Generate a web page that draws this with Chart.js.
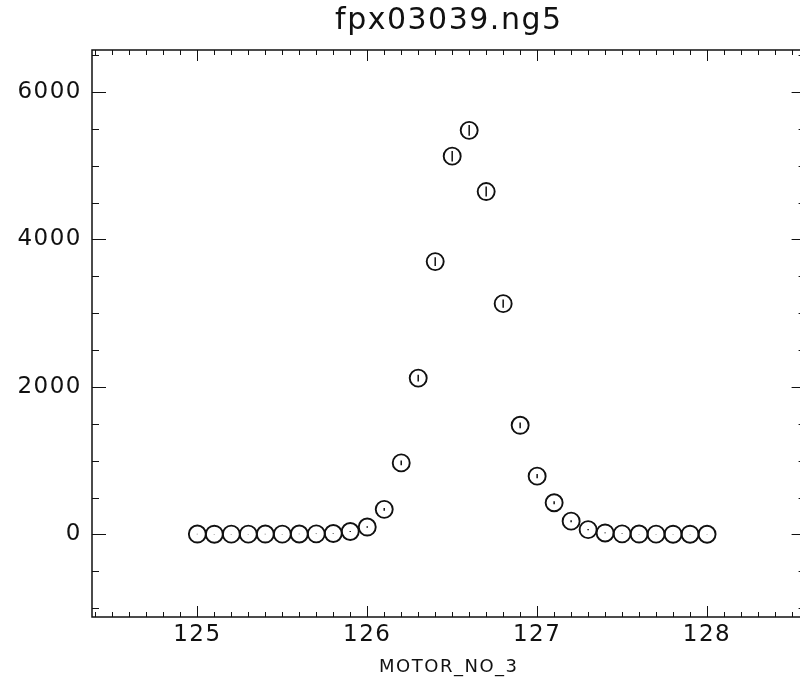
<!DOCTYPE html>
<html>
<head>
<meta charset="utf-8">
<script src="https://cdn.jsdelivr.net/npm/chart.js@4"></script>
<style>
  html, body { margin: 0; padding: 0; background: #fff; overflow: hidden; }
  #scan { display: block; }
</style>
</head>
<body>
<canvas id="scan" width="816" height="695"></canvas>
<script>
// motor positions (x) and counts (y)
const motorPos = [125.0, 125.1, 125.2, 125.3, 125.4, 125.5, 125.6, 125.7, 125.8, 125.9,
                  126.0, 126.1, 126.2, 126.3, 126.4, 126.5, 126.6, 126.7, 126.8, 126.9,
                  127.0, 127.1, 127.2, 127.3, 127.4, 127.5, 127.6, 127.7, 127.8, 127.9, 128.0];
const counts = [5, 3, 4, 4, 5, 4, 6, 8, 12, 40,
                100, 340, 970, 2120, 3700, 5130, 5480, 4650, 3130, 1480,
                790, 430, 180, 65, 20, 8, 5, 4, 3, 3, 2];
const xTicks = [125, 126, 127, 128];
const yTicks = [0, 2000, 4000, 6000];
const xRange = [124.38, 128.58];
const yRange = [-1120, 6570];

// IDL style box: ticks on all four sides, pointing inward
const idlFrame = {
    id: 'idlFrame',
    beforeDraw(chart) {
        chart.ctx.letterSpacing = '1.5px';
    },
    afterDatasetsDraw(chart) {
        // sqrt(N) error bars inside each circle
        const ctx = chart.ctx;
        const x = chart.scales.x, y = chart.scales.y;
        ctx.save();
        ctx.strokeStyle = '#111';
        ctx.lineWidth = 1.5;
        counts.forEach((c, i) => {
            const err = Math.sqrt(c);
            const px = x.getPixelForValue(motorPos[i]);
            ctx.beginPath();
            ctx.moveTo(px, y.getPixelForValue(c - err));
            ctx.lineTo(px, y.getPixelForValue(c + err));
            ctx.stroke();
        });
        ctx.restore();
    },
    afterDraw(chart) {
        const ctx = chart.ctx;
        const a = chart.chartArea;
        const x = chart.scales.x, y = chart.scales.y;
        ctx.save();
        ctx.strokeStyle = '#111';
        ctx.lineWidth = 1.5;
        ctx.strokeRect(a.left, a.top, a.right - a.left, a.bottom - a.top);

        ctx.lineWidth = 1;
        ctx.beginPath();
        // x: minor every 0.1, major at labelled ticks
        for (let k = Math.ceil(xRange[0] * 10); k <= Math.floor(xRange[1] * 10); k++) {
            const v = k / 10;
            const len = xTicks.some(t => Math.abs(t - v) < 1e-6) ? 11 : 5;
            const px = Math.round(x.getPixelForValue(v)) + 0.5;
            ctx.moveTo(px, a.bottom); ctx.lineTo(px, a.bottom - len);
            ctx.moveTo(px, a.top); ctx.lineTo(px, a.top + len);
        }
        // y: minor every 500
        for (let k = Math.ceil(yRange[0] / 500); k <= Math.floor(yRange[1] / 500); k++) {
            const v = k * 500;
            const len = yTicks.includes(v) ? 14 : 7;
            const py = Math.round(y.getPixelForValue(v)) + 0.5;
            ctx.moveTo(a.left, py); ctx.lineTo(a.left + len, py);
            ctx.moveTo(a.right, py); ctx.lineTo(a.right - len, py);
        }
        ctx.stroke();
        ctx.restore();
    }
};

document.addEventListener("DOMContentLoaded", function () {
    const ctx = document.getElementById('scan').getContext('2d');
    const labelFont = { family: "'DejaVu Sans', sans-serif", size: 23 };

    new Chart(ctx, {
        type: 'scatter',
        data: {
            datasets: [{
                label: 'fpx03039.ng5',
                data: motorPos.map((m, i) => ({ x: m, y: counts[i] })),
                pointStyle: 'circle',
                pointRadius: 8.5,
                pointBorderWidth: 1.9,
                pointBorderColor: '#111',
                pointBackgroundColor: 'rgba(0,0,0,0)',
                showLine: false
            }]
        },
        options: {
            responsive: false,
            animation: false,
            layout: { padding: { left: 0, right: 8, top: 0, bottom: 0 } },
            plugins: {
                legend: { display: false },
                tooltip: { enabled: false },
                title: {
                    display: true,
                    text: 'fpx03039.ng5',
                    fullSize: false,
                    color: '#111',
                    font: { family: "'DejaVu Sans', sans-serif", size: 30, weight: 'normal', lineHeight: 1.2 },
                    padding: { top: 3, bottom: 11 }
                }
            },
            scales: {
                x: {
                    type: 'linear',
                    min: xRange[0],
                    max: xRange[1],
                    grid: { display: false, drawTicks: false },
                    border: { display: false },
                    afterBuildTicks: axis => { axis.ticks = xTicks.map(v => ({ value: v })); },
                    afterFit: scale => { scale.height = 78; },
                    ticks: { color: '#111', font: labelFont, padding: 4, maxRotation: 0,
                             callback: v => String(v) },
                    title: {
                        display: true,
                        text: 'MOTOR_NO_3',
                        color: '#111',
                        font: { family: "'DejaVu Sans', sans-serif", size: 18, lineHeight: 1.2 },
                        padding: { top: 0, bottom: 17 }
                    }
                },
                y: {
                    type: 'linear',
                    min: yRange[0],
                    max: yRange[1],
                    grid: { display: false, drawTicks: false },
                    border: { display: false },
                    afterBuildTicks: axis => { axis.ticks = yTicks.map(v => ({ value: v })); },
                    afterFit: scale => { scale.width = 92; },
                    ticks: { color: '#111', font: labelFont, padding: 10,
                             callback: v => String(v) }
                }
            }
        },
        plugins: [idlFrame]
    });
});
</script>
</body>
</html>
